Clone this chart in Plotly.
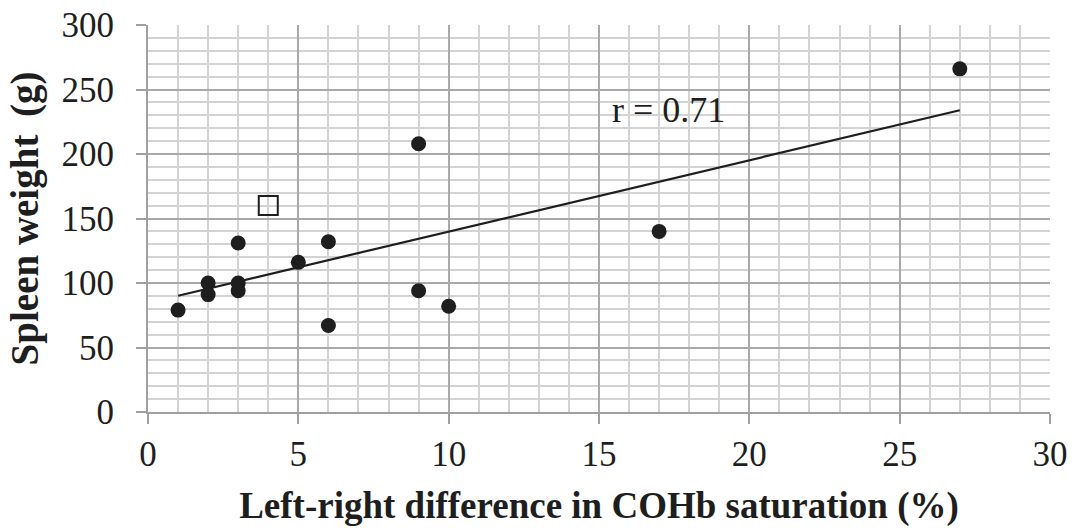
import numpy as np
import plotly.graph_objects as go

# Filled points
x_filled = [1, 2, 2, 3, 3, 3, 5, 6, 6, 9, 9, 10, 17, 27]
y_filled = [79, 100, 91, 131, 100, 94, 116, 132, 67, 208, 94, 82, 140, 266]
# Open square point
x_open = [4]
y_open = [160]

x_ticks = [0, 5, 10, 15, 20, 25, 30]
y_ticks = [0, 50, 100, 150, 200, 250, 300]

all_x = np.array(x_filled + x_open, dtype=float)
all_y = np.array(y_filled + y_open, dtype=float)
slope, intercept = np.polyfit(all_x, all_y, 1)
r = np.corrcoef(all_x, all_y)[0, 1]
fx = np.array([all_x.min(), all_x.max()])
fy = slope * fx + intercept

serif = "Liberation Serif, Times New Roman, serif"
ink = "#1e1e1e"

fig = go.Figure()
fig.add_trace(go.Scatter(x=fx, y=fy, mode="lines",
                         line=dict(color=ink, width=2.2),
                         hoverinfo="skip", showlegend=False))
fig.add_trace(go.Scatter(x=x_filled, y=y_filled, mode="markers",
                         marker=dict(symbol="circle", size=15, color=ink),
                         showlegend=False))
fig.add_trace(go.Scatter(x=x_open, y=y_open, mode="markers",
                         marker=dict(symbol="square-open", size=19, color=ink,
                                     line=dict(width=2)),
                         showlegend=False))

fig.add_annotation(x=17.3, y=234, text=f"r = {r:.2f}", showarrow=False,
                   font=dict(family=serif, size=36, color=ink))

fig.update_layout(
    width=1074, height=530,
    margin=dict(l=148, r=24, t=25, b=118),
    plot_bgcolor="white", paper_bgcolor="white",
    font=dict(family=serif, color=ink),
)
fig.update_xaxes(
    range=[0, 30], tickvals=x_ticks, ticktext=[str(v) for v in x_ticks],
    showgrid=True, gridcolor="#a9a9a9", gridwidth=2,
    minor=dict(dtick=1, showgrid=True, gridcolor="#d3d3d3", gridwidth=1.8),
    showline=True, linecolor="#a0a0a0", linewidth=2,
    ticks="outside", ticklen=10, tickcolor="#a0a0a0", tickwidth=2,
    tickfont=dict(family=serif, size=35, color=ink),
    ticklabeloverflow="allow",
    zeroline=False, automargin=False,
    title=dict(text="<b>Left-right difference in COHb saturation (%)</b>",
               font=dict(family=serif, size=37, color=ink), standoff=19),
)
fig.update_yaxes(
    range=[0, 300], tickvals=y_ticks, ticktext=[str(v) for v in y_ticks],
    showgrid=True, gridcolor="#a9a9a9", gridwidth=2,
    minor=dict(dtick=10, showgrid=True, gridcolor="#d3d3d3", gridwidth=1.8),
    showline=True, linecolor="#a0a0a0", linewidth=2,
    ticks="outside", ticklen=10, tickcolor="#a0a0a0", tickwidth=2,
    tickfont=dict(family=serif, size=35, color=ink),
    ticklabelstandoff=15, ticklabeloverflow="allow",
    zeroline=False, automargin=False,
    title=dict(text="<b>Spleen weight\u2009 (g)</b>",
               font=dict(family=serif, size=39, color=ink), standoff=11),
)

# remove the browser's default 8px body margin so the figure fills the window
fig.write_html("out.html",
               config={"displayModeBar": False},
               post_script="document.body.style.margin='0';document.body.style.overflow='hidden';")
